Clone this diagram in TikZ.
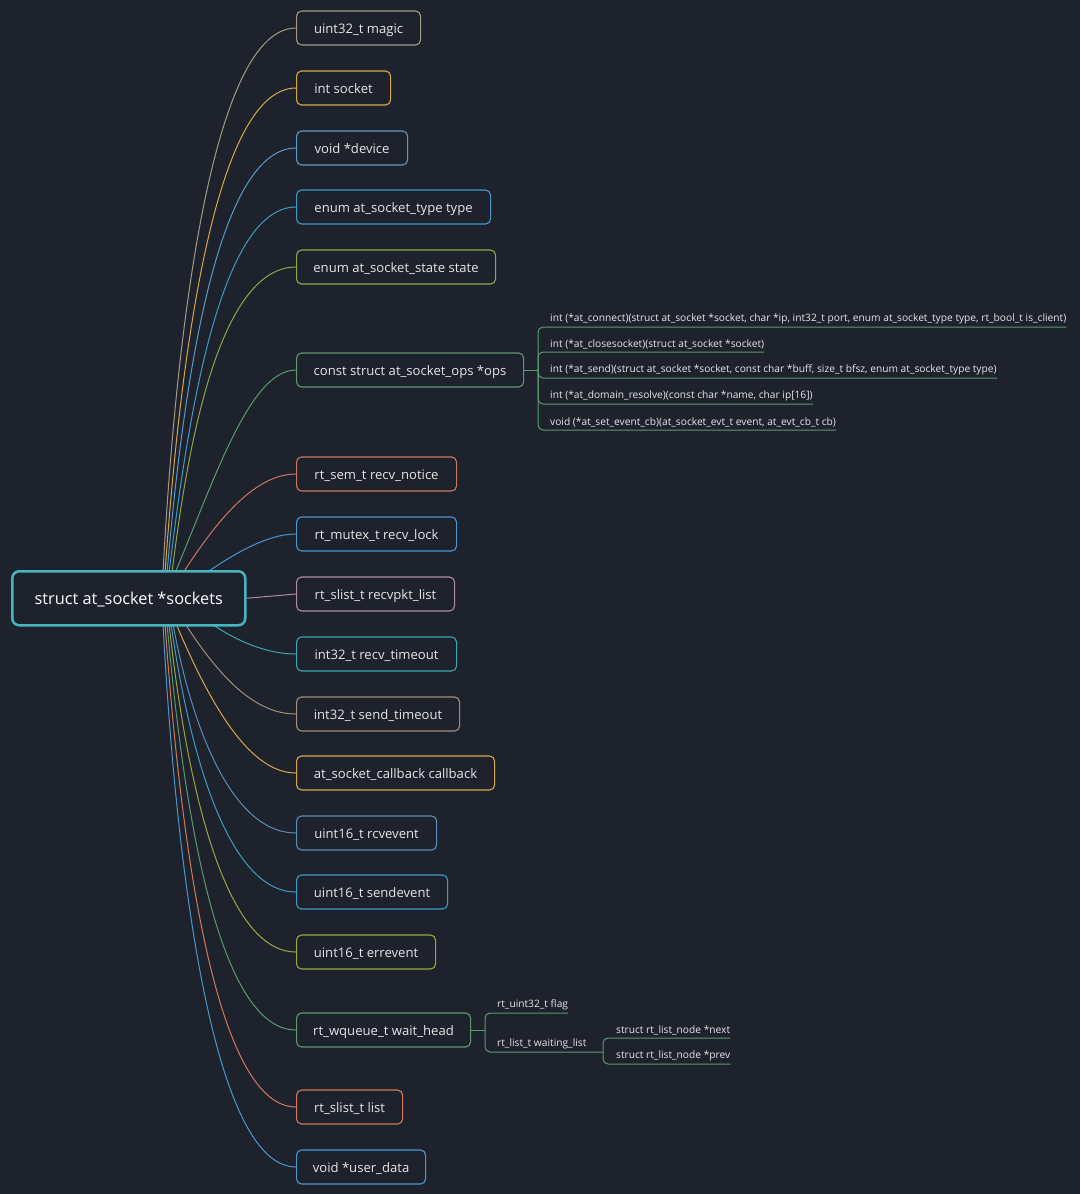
\documentclass[tikz,border=0pt]{standalone}
\usepackage{fontspec}
\setmainfont{Open Sans}
\usetikzlibrary{calc}
\pgfdeclarelayer{background}
\pgfdeclarelayer{edges}
\pgfsetlayers{background,edges,main}
\definecolor{bg}{HTML}{1E222D}
\definecolor{txt}{HTML}{E6E6E6}
\definecolor{rootc}{HTML}{45B5BE}
\definecolor{cMagic}{HTML}{A39A86}
\definecolor{cGold}{HTML}{D6A849}
\definecolor{cDev}{HTML}{5A9AC6}
\definecolor{cType}{HTML}{3E9CC4}
\definecolor{cState}{HTML}{8BA74B}
\definecolor{cGreen}{HTML}{5B9A6E}
\definecolor{cSalmon}{HTML}{C8775E}
\definecolor{cLock}{HTML}{4A94D0}
\definecolor{cPink}{HTML}{B487A8}
\definecolor{cTeal}{HTML}{3AA5AE}
\definecolor{cTan}{HTML}{A18F77}
\definecolor{cRcv}{HTML}{5A8EBA}
\definecolor{cErr}{HTML}{98A83C}
\definecolor{cList}{HTML}{D07A5C}
\definecolor{cUser}{HTML}{4A98CC}
\begin{document}
\begin{tikzpicture}[x=1pt,y=-1pt,
  rootbox/.style={draw=rootc, line width=2.5pt, rounded corners=7pt, fill=bg, text=white,
    minimum width=233pt, minimum height=54pt, anchor=north west, inner sep=0pt,
    text height=12pt, text depth=0pt, font=\fontsize{16.3}{19}\selectfont},
  box/.style={draw=#1, line width=1.1pt, rounded corners=5pt, fill=bg, text=txt,
    minimum height=34pt, anchor=west, inner sep=0pt, text height=10pt, text depth=0pt,
    font=\fontsize{13.1}{15}\selectfont},
  link/.style={draw=#1, line width=1pt},
  sublink/.style={draw=cGreen, line width=1pt, rounded corners=5pt},
  subitem/.style={anchor=south west, inner xsep=0pt, inner ysep=2.5pt, text=txt,
    font=\fontsize{10.2}{11}\selectfont}
]
\begin{pgfonlayer}{background}
\fill[bg] (0,0) rectangle (1080,1194);
\end{pgfonlayer}
\useasboundingbox (0,0) rectangle (1080,1194);

\node[rootbox] (root) at (11,570) {struct at\_socket *sockets};

\node[box=cMagic, minimum width=124pt] (n1) at (296,28) {uint32\_t magic};
\node[box=cGold, minimum width=94pt] (n2) at (296,88) {int socket};
\node[box=cDev, minimum width=111pt] (n3) at (296,148) {void *device};
\node[box=cType, minimum width=194pt] (n4) at (296,207) {enum at\_socket\_type type};
\node[box=cState, minimum width=199pt] (n5) at (296,267) {enum at\_socket\_state state};
\node[box=cGreen, minimum width=227pt] (n6) at (296,370) {const struct at\_socket\_ops *ops};
\node[box=cSalmon, minimum width=160pt] (n7) at (296,474) {rt\_sem\_t recv\_notice};
\node[box=cLock, minimum width=160pt] (n8) at (296,534) {rt\_mutex\_t recv\_lock};
\node[box=cPink, minimum width=158pt] (n9) at (296,594) {rt\_slist\_t recvpkt\_list};
\node[box=cTeal, minimum width=160pt] (n10) at (296,654) {int32\_t recv\_timeout};
\node[box=cTan, minimum width=163pt] (n11) at (296,714) {int32\_t send\_timeout};
\node[box=cGold, minimum width=198pt] (n12) at (296,773) {at\_socket\_callback callback};
\node[box=cRcv, minimum width=140pt] (n13) at (296,833) {uint16\_t rcvevent};
\node[box=cType, minimum width=151pt] (n14) at (296,892) {uint16\_t sendevent};
\node[box=cErr, minimum width=139pt] (n15) at (296,952) {uint16\_t errevent};
\node[box=cGreen, minimum width=174pt] (n16) at (296,1030) {rt\_wqueue\_t wait\_head};
\node[box=cList, minimum width=106pt] (n17) at (296,1107) {rt\_slist\_t list};
\node[box=cUser, minimum width=129pt] (n18) at (296,1167) {void *user\_data};

\begin{pgfonlayer}{edges}
% upper branches (leave the root's top edge)
\draw[link=cMagic] ($(root.north west)+(152,3)$) .. controls +(10,-190) and +(-91,0) .. (n1.west);
\draw[link=cGold] ($(root.north west)+(154,3)$) .. controls +(12,-170) and +(-88,0) .. (n2.west);
\draw[link=cDev] ($(root.north west)+(156,3)$) .. controls +(13,-150) and +(-85,0) .. (n3.west);
\draw[link=cType] ($(root.north west)+(158,3)$) .. controls +(16,-130) and +(-80,0) .. (n4.west);
\draw[link=cState] ($(root.north west)+(161,3)$) .. controls +(13,-106) and +(-81,0) .. (n5.west);
\draw[link=cGreen] ($(root.north west)+(164,3)$) .. controls +(40,-95) and +(-46,0) .. (n6.west);
\draw[link=cSalmon] ($(root.north west)+(172,3)$) .. controls +(36,-56) and +(-40,0) .. (n7.west);
\draw[link=cLock] ($(root.north west)+(195,3)$) .. controls +(25,-17) and +(-30,0) .. (n8.west);
% middle
\draw[link=cPink] (root.east) -- (n9.west);
% lower branches (leave the root's bottom edge)
\draw[link=cTeal] ($(root.south west)+(200,-3)$) .. controls +(25,17) and +(-30,0) .. (n10.west);
\draw[link=cTan] ($(root.south west)+(174,-3)$) .. controls +(36,56) and +(-40,0) .. (n11.west);
\draw[link=cGold] ($(root.south west)+(165,-3)$) .. controls +(35,83) and +(-46,0) .. (n12.west);
\draw[link=cRcv] ($(root.south west)+(162,-3)$) .. controls +(15,85) and +(-70,0) .. (n13.west);
\draw[link=cType] ($(root.south west)+(160,-3)$) .. controls +(14,100) and +(-75,0) .. (n14.west);
\draw[link=cErr] ($(root.south west)+(158,-3)$) .. controls +(13,120) and +(-80,0) .. (n15.west);
\draw[link=cGreen] ($(root.south west)+(156,-3)$) .. controls +(13,145) and +(-85,0) .. (n16.west);
\draw[link=cList] ($(root.south west)+(154,-3)$) .. controls +(12,170) and +(-88,0) .. (n17.west);
\draw[link=cUser] ($(root.south west)+(152,-3)$) .. controls +(10,190) and +(-91,0) .. (n18.west);
\end{pgfonlayer}

% ops members
\node[subitem] (k1) at (538,327) {\hspace{12pt}int (*at\_connect)(struct at\_socket *socket, char *ip, int32\_t port, enum at\_socket\_type type, rt\_bool\_t is\_client)\hspace{3pt}};
\node[subitem] (k2) at (538,352) {\hspace{12pt}int (*at\_closesocket)(struct at\_socket *socket)\hspace{3pt}};
\node[subitem] (k3) at (538,378) {\hspace{12pt}int (*at\_send)(struct at\_socket *socket, const char *buff, size\_t bfsz, enum at\_socket\_type type)\hspace{3pt}};
\node[subitem] (k4) at (538,404) {\hspace{12pt}int (*at\_domain\_resolve)(const char *name, char ip[16])\hspace{3pt}};
\node[subitem] (k5) at (538,430) {\hspace{12pt}void (*at\_set\_event\_cb)(at\_socket\_evt\_t event, at\_evt\_cb\_t cb)\hspace{3pt}};
\coordinate (ob) at (538,370);
\draw[sublink] (n6.east) -- (ob);
\foreach \k in {k1,k2,k3,k4,k5} {\draw[sublink] (ob) |- (\k.south east);}

% wait_head members
\coordinate (wb) at (485,1030);
\coordinate (wl) at (603,1052);
\node[subitem] (w1) at (485,1013) {\hspace{12pt}rt\_uint32\_t flag\hspace{3pt}};
\node[subitem] (w2) at (485,1052) {\hspace{12pt}rt\_list\_t waiting\_list};
\node[subitem] (w3) at (603,1038) {\hspace{13pt}struct rt\_list\_node *next\hspace{3pt}};
\node[subitem] (w4) at (603,1064) {\hspace{13pt}struct rt\_list\_node *prev\hspace{3pt}};
\draw[sublink] (n16.east) -- (wb);
\draw[sublink] (wb) |- (w1.south east);
\draw[sublink] (wb) |- (wl);
\draw[sublink] (wl) |- (w3.south east);
\draw[sublink] (wl) |- (w4.south east);
\end{tikzpicture}
\end{document}
